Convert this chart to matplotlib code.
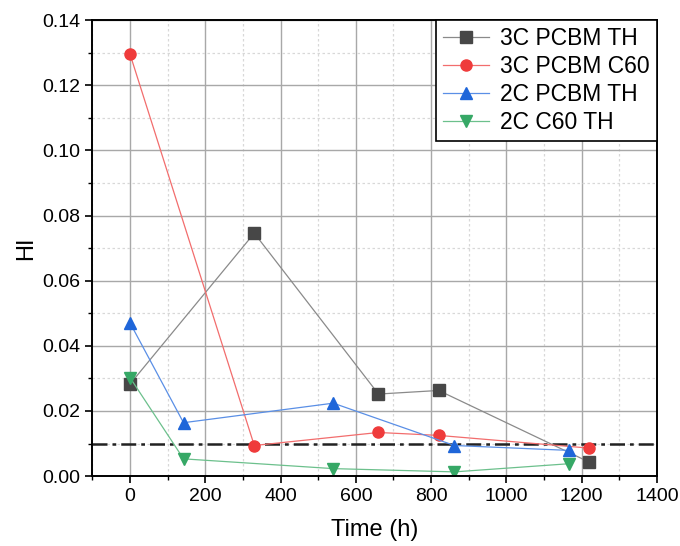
import matplotlib.pyplot as plt
from matplotlib.ticker import MultipleLocator

plt.rcParams["font.family"] = ["Liberation Sans", "DejaVu Sans"]

# data
t_3c_pcbm_th = [0, 330, 660, 820, 1220]
hi_3c_pcbm_th = [0.0283, 0.0746, 0.0252, 0.0263, 0.0043]

t_3c_pcbm_c60 = [0, 330, 660, 820, 1220]
hi_3c_pcbm_c60 = [0.1295, 0.0094, 0.0134, 0.0125, 0.0086]

t_2c_pcbm_th = [0, 142, 540, 862, 1166]
hi_2c_pcbm_th = [0.0470, 0.0164, 0.0224, 0.0094, 0.0079]

t_2c_c60_th = [0, 142, 540, 862, 1166]
hi_2c_c60_th = [0.0302, 0.0053, 0.0023, 0.0013, 0.0038]

threshold = 0.01

series = [
    ("3C PCBM TH", t_3c_pcbm_th, hi_3c_pcbm_th, "s", "#8a8a8a", "#474747"),
    ("3C PCBM C60", t_3c_pcbm_c60, hi_3c_pcbm_c60, "o", "#f26d6d", "#ef3b3b"),
    ("2C PCBM TH", t_2c_pcbm_th, hi_2c_pcbm_th, "^", "#5a8fe6", "#1f66d9"),
    ("2C C60 TH", t_2c_c60_th, hi_2c_c60_th, "v", "#6cc08c", "#36a866"),
]

fig = plt.figure(figsize=(6.8, 5.46), dpi=100)
ax = fig.add_axes([0.136, 0.128, 0.830, 0.835])

ax.set_xlim(-100, 1400)
ax.set_ylim(0, 0.14)
ax.xaxis.set_major_locator(MultipleLocator(200))
ax.xaxis.set_minor_locator(MultipleLocator(100))
ax.yaxis.set_major_locator(MultipleLocator(0.02))
ax.yaxis.set_minor_locator(MultipleLocator(0.01))
ax.yaxis.set_major_formatter(lambda v, p: f"{v:.2f}")

ax.grid(which="major", color="#a8a8a8", linewidth=1.0, linestyle="-")
ax.grid(which="minor", color="#d8d8d8", linewidth=0.9, linestyle=(0, (2, 2)))
ax.set_axisbelow(True)

ax.axhline(threshold, color="#222222", linewidth=1.8,
           linestyle=(0, (6, 2, 1.5, 2)), zorder=1.5)

for label, t, hi, marker, lc, mc in series:
    ax.plot(t, hi, color=lc, linewidth=0.9, marker=marker, markersize=8,
            markerfacecolor=mc, markeredgecolor=mc, label=label)

for side in ["left", "bottom", "top", "right"]:
    ax.spines[side].set_linewidth(1.4)
    ax.spines[side].set_color("black")

ax.tick_params(which="major", direction="out", length=5, width=1.2,
               labelsize=14, top=False, right=False)
ax.tick_params(which="minor", direction="out", length=3, width=1.0,
               top=False, right=False)

ax.set_xlabel("Time (h)", fontsize=17, labelpad=10)
ax.set_ylabel("HI", fontsize=17, labelpad=4)

leg = ax.legend(loc="upper right", fontsize=16.5, frameon=True, fancybox=False,
                framealpha=1, edgecolor="black", handlelength=2.0,
                borderpad=0.3, labelspacing=0.22, handletextpad=0.5,
                borderaxespad=0)
leg.get_frame().set_linewidth(1.2)

fig.savefig("out.png", dpi=100)
